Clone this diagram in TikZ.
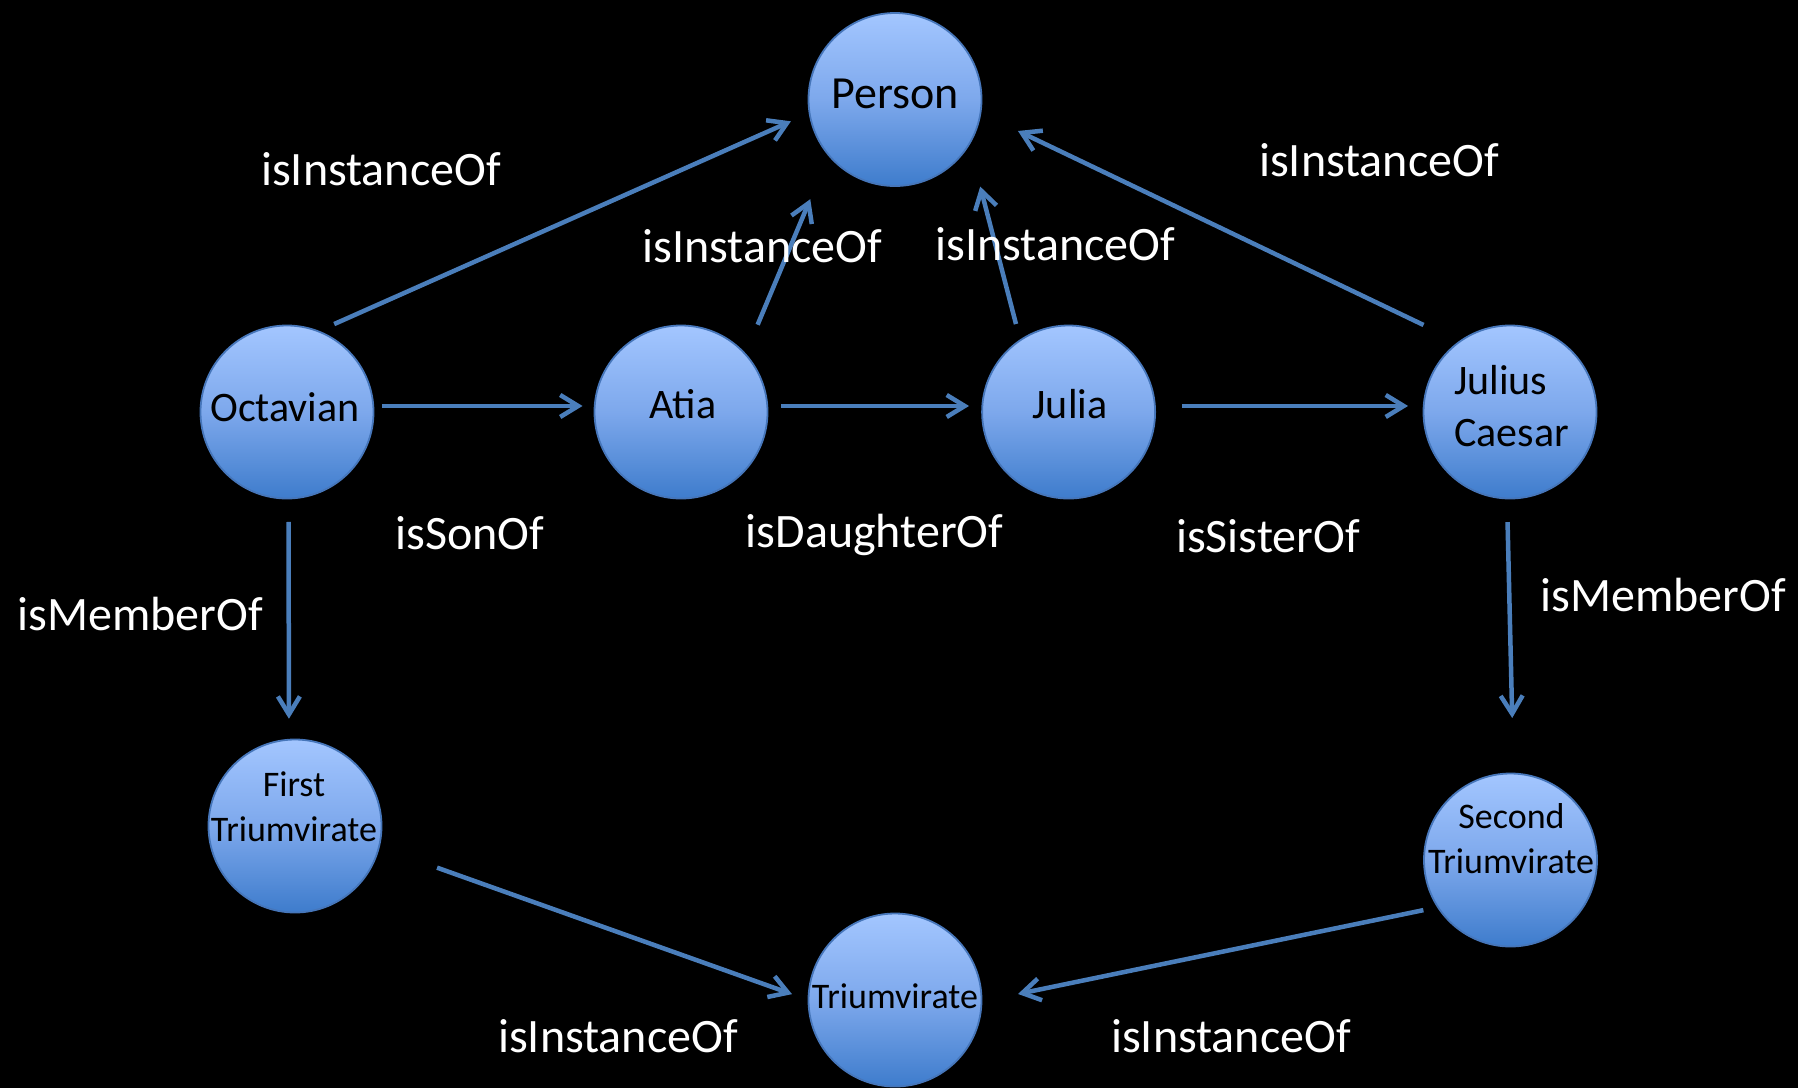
\documentclass[tikz,border=0pt]{standalone}
\usepackage{fontspec}
\setmainfont{Carlito}
\usetikzlibrary{arrows.meta}
\definecolor{arrowblue}{RGB}{74,126,187}
\definecolor{balltop}{RGB}{163,198,255}
\definecolor{ballmid}{RGB}{125,168,236}
\definecolor{ballbot}{RGB}{62,124,204}
\definecolor{ballrim}{RGB}{70,118,186}
\begin{document}
\begin{tikzpicture}[x=1pt,y=-1pt,
 ball/.style={circle, minimum size=173pt, inner sep=0pt, outer sep=0pt, draw=ballrim, line width=1.8pt, top color=balltop, bottom color=ballbot, middle color=ballmid},
 ntext/.style={text=black, font=\fontsize{42}{50}\selectfont, inner sep=0pt, anchor=base},
 ptext/.style={text=black, font=\fontsize{46}{55}\selectfont, inner sep=0pt, anchor=base},
 stext/.style={text=black, font=\fontsize{36}{44}\selectfont, inner sep=0pt, anchor=base},
 lab/.style={text=white, font=\fontsize{48}{58}\selectfont, inner sep=0pt, anchor=base},
 rel/.style={draw=arrowblue, line width=4.5pt, -{Straight Barb[length=18pt,width=22pt]}},
]
\path[use as bounding box, fill=black] (0,0) rectangle (1798,1088);

% circles
\node[ball] (person) at (895,99.5) {};
\node[ball] (oct) at (287,412) {};
\node[ball] (atia) at (681,412) {};
\node[ball] (julia) at (1068.6,412) {};
\node[ball] (caesar) at (1510,412) {};
\node[ball] (first) at (295,826) {};
\node[ball] (second) at (1510.5,860) {};
\node[ball] (tri) at (895,1000) {};

% node texts
\node[ptext] (person-t) at (895,108) {Person};
\node[ntext] (oct-t) at (285,421.5) {Octavian};
\node[ntext] (atia-t) at (683,418) {Atia};
\node[ntext] (julia-t) at (1070,418) {Julia};
\node[ntext, anchor=base west] (caesar-t1) at (1454,394) {Julius};
\node[ntext, anchor=base west] (caesar-t2) at (1454,446) {Caesar};
\node[stext] (first-t1) at (294,796.7) {First};
\node[stext] (first-t2) at (294,841.7) {Triumvirate};
\node[stext] (second-t1) at (1511.5,828) {Second};
\node[stext] (second-t2) at (1511,873) {Triumvirate};
\node[stext] (tri-t) at (895,1008) {Triumvirate};

% connectors
\draw[rel, shorten <=8.7pt, shorten >=12.2pt] (oct.4) -- (atia.176);
\draw[rel, shorten <=13.7pt, shorten >=13.3pt] (atia.4) -- (julia.176);
\draw[rel, shorten <=27pt, shorten >=15.7pt] (julia.4) -- (caesar.176);
\draw[rel, shorten <=23.5pt, shorten >=21pt] (oct.-89) -- (first.94);
\draw[rel, shorten <=23.6pt, shorten >=55.6pt] (caesar.-92) -- (second.88);
\draw[rel, shorten <=17.7pt, shorten >=20.4pt] (oct.69) -- (person.189.5);
\draw[rel, shorten <=31.9pt, shorten >=47.8pt] (atia.42.7) -- (person.220);
\draw[rel, shorten <=16.8pt, shorten >=43.9pt] (julia.124) -- (person.-31.4);
\draw[rel, shorten <=39.5pt, shorten >=41.6pt] (caesar.126) -- (person.-9);
\draw[rel, shorten <=61.7pt, shorten >=17.5pt] (first.-14.2) -- (tri.180.6);
\draw[rel, shorten <=14.9pt, shorten >=37.3pt] (second.213.7) -- (tri.-1.7);

% labels
\node[lab] (l-oct-person) at (381,185) {isInstanceOf};
\node[lab] (l-atia-person) at (762.5,262) {isInstanceOf};
\node[lab] (l-julia-person) at (1055.5,260) {isInstanceOf};
\node[lab] (l-caesar-person) at (1379,176) {isInstanceOf};
\node[lab] (l-son) at (470,549) {isSonOf};
\node[lab] (l-daughter) at (874.6,547) {isDaughterOf};
\node[lab] (l-sister) at (1268,552) {isSisterOf};
\node[lab] (l-member1) at (140,630) {isMemberOf};
\node[lab] (l-member2) at (1663,611) {isMemberOf};
\node[lab] (l-first-tri) at (618,1052) {isInstanceOf};
\node[lab] (l-second-tri) at (1231,1052) {isInstanceOf};
\end{tikzpicture}
\end{document}
